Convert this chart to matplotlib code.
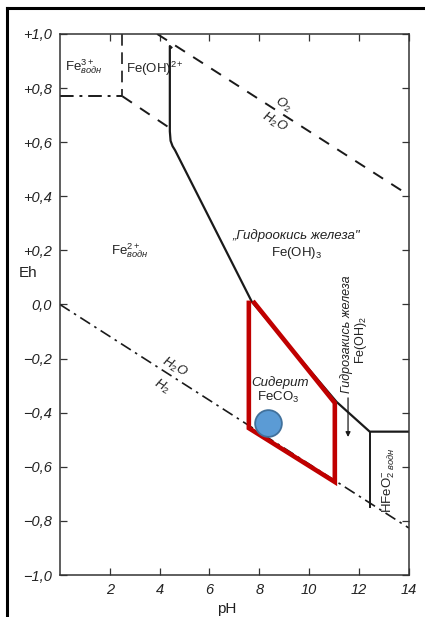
import matplotlib
matplotlib.use("Agg")
import matplotlib.pyplot as plt
from matplotlib.lines import Line2D

plt.rcParams["font.family"] = ["Liberation Sans", "DejaVu Sans"]
plt.rcParams["mathtext.fontset"] = "custom"
plt.rcParams["mathtext.rm"] = "Liberation Sans"
plt.rcParams["mathtext.it"] = "Liberation Sans:italic"

# axis ticks
ph_ticks = [2, 4, 6, 8, 10, 12, 14]
eh_ticks = [-1.0, -0.8, -0.6, -0.4, -0.2, 0.0, 0.2, 0.4, 0.6, 0.8, 1.0]
eh_labels = ["−1,0", "−0,8", "−0,6", "−0,4", "−0,2", "0,0",
             "+0,2", "+0,4", "+0,6", "+0,8", "+1,0"]

# water stability limits
o2_ph = [3.9, 14.0]
o2_eh = [1.0, 0.404]
h2_ph = [0.0, 14.0]
h2_eh = [0.0, -0.826]

# Fe3+ / Fe(OH)2+ / Fe2+ boundaries (dashed)
fe3_vert_ph = [2.5, 2.5]
fe3_vert_eh = [1.0, 0.77]
fe3_horiz_ph = [0.0, 2.5]
fe3_horiz_eh = [0.77, 0.77]
feoh_ph = [2.5, 4.41]
feoh_eh = [0.77, 0.652]

# Fe(OH)3 boundary (solid)
ox_ph = [4.47, 4.41, 4.41, 4.44, 4.52, 4.62, 7.7, 11.1, 12.43, 14.0]
ox_eh = [0.95, 0.955, 0.64, 0.605, 0.585, 0.57, 0.01, -0.36, -0.47, -0.47]
hfeo2_ph = [12.43, 12.43]
hfeo2_eh = [-0.47, -0.75]

# siderite field outline
sid_ph = [7.8, 11.03, 11.03, 7.58, 7.58]
sid_eh = [0.006, -0.364, -0.656, -0.457, 0.006]
dot_ph, dot_eh = 8.35, -0.438

fig = plt.figure(figsize=(4.25, 6.17), dpi=100)
ax = fig.add_axes([0.141, 0.068, 0.821, 0.877])

ink = "#1a1a1a"
ax.plot(o2_ph, o2_eh, color=ink, lw=1.4, dashes=(6, 5))
ax.plot(h2_ph, h2_eh, color=ink, lw=1.2, dashes=(7, 3, 1.5, 3))
ax.plot(fe3_vert_ph, fe3_vert_eh, color=ink, lw=1.2, dashes=(7, 4))
ax.plot(fe3_horiz_ph, fe3_horiz_eh, color=ink, lw=1.4, dashes=(7, 3, 1.5, 3))
ax.plot(feoh_ph, feoh_eh, color=ink, lw=1.4, dashes=(6, 5))
ax.plot(ox_ph, ox_eh, color=ink, lw=1.6, solid_joinstyle="round")
ax.plot(hfeo2_ph, hfeo2_eh, color=ink, lw=1.4)

# arrow under the Fe(OH)2 label
ax.annotate("", xy=(11.56, -0.50), xytext=(11.56, -0.335),
            arrowprops=dict(arrowstyle="-|>", color=ink, lw=0.9,
                            mutation_scale=7))

ax.plot(sid_ph, sid_eh, color="#C00000", lw=3.3, solid_joinstyle="miter",
        zorder=4)
ax.scatter([dot_ph], [dot_eh], s=370, color="#5B9BD5", edgecolor="#41719C",
           linewidth=1.3, zorder=5)

txt = dict(color="#222222", fontsize=9.5)
ax.text(0.2, 0.88, r"Fe$^{3+}_{\mathit{водн}}$", ha="left", va="center", **txt)
ax.text(2.65, 0.87, r"Fe(OH)$^{2+}$", ha="left", va="center", **txt)
ax.text(2.8, 0.2, r"Fe$^{2+}_{\mathit{водн}}$", ha="center", va="center", **txt)
ax.text(8.95, 0.74, r"$O_2$", ha="center", va="center", rotation=-30, **txt)
ax.text(8.6, 0.675, r"$H_2O$", ha="center", va="center", rotation=-30, **txt)
ax.text(4.6, -0.23, r"$H_2O$", ha="center", va="center", rotation=-30, **txt)
ax.text(4.1, -0.305, r"$H_2$", ha="center", va="center", rotation=-30, **txt)
ax.text(9.5, 0.255, "„Гидроокись железа\"", ha="center", va="center",
        style="italic", **txt)
ax.text(9.5, 0.19, r"Fe(OH)$_3$", ha="center", va="center", **txt)
ax.text(11.48, -0.11, "Гидрозакись железа", ha="center", va="center",
        rotation=90, style="italic", color="#222222", fontsize=9)
ax.text(12.08, -0.13, r"Fe(OH)$_2$", ha="center", va="center", rotation=90,
        color="#222222", fontsize=9)
ax.text(8.85, -0.29, "Сидерит", ha="center", va="center", style="italic",
        **txt)
ax.text(8.75, -0.345, r"FeCO$_3$", ha="center", va="center", **txt)
ax.text(13.2, -0.65, r"HFeO$_{2\ \mathit{водн}}^{-}$", ha="center",
        va="center", rotation=90, **txt)

ax.set_xlim(0, 14)
ax.set_ylim(-1.0, 1.0)
ax.set_xticks(ph_ticks)
ax.set_xticklabels([str(t) for t in ph_ticks], style="italic", fontsize=10.5,
                   color="#222222")
ax.set_yticks(eh_ticks)
ax.set_yticklabels(eh_labels, style="italic", fontsize=10.5, color="#222222")
ax.tick_params(direction="in", length=5, width=0.9, color="#333333",
               top=True, right=True, pad=6)
for sp in ax.spines.values():
    sp.set_linewidth(1.1)
    sp.set_color("#333333")

ax.set_xlabel("pH", fontsize=11, color="#222222")
ax.xaxis.set_label_coords(0.478, -0.05)
ax.set_ylabel("Eh", fontsize=11, color="#222222", rotation=0)
ax.yaxis.set_label_coords(-0.09, 0.545)

# outer frame (left and top edges)
fig.add_artist(Line2D([0.0165, 0.0165], [0.0, 0.987], color="black", lw=2.2,
                      transform=fig.transFigure))
fig.add_artist(Line2D([0.0165, 0.995], [0.987, 0.987], color="black", lw=2.2,
                      transform=fig.transFigure))

fig.savefig("out.png", dpi=100)
